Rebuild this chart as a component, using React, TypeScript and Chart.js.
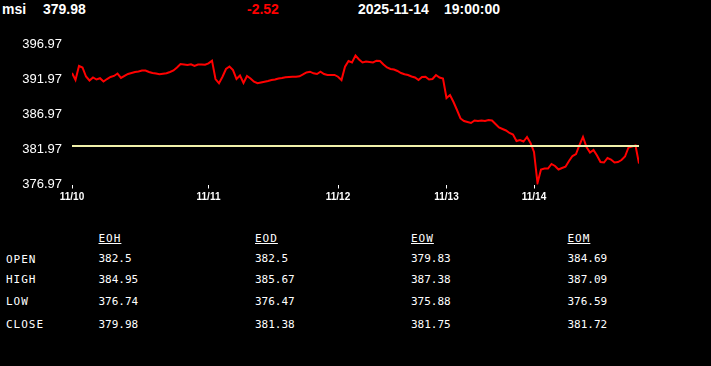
import React, { useEffect, useRef } from 'react';
import { Chart, registerables } from 'chart.js';

Chart.register(...registerables);

// ---------- header ----------
const symbol = 'msi';
const lastPrice = '379.98';
const change = '-2.52';
const quoteDate = '2025-11-14';
const quoteTime = '19:00:00';

// ---------- chart data ----------
const dayLabels = ['11/10', '11/11', '11/12', '11/13', '11/14'];

const day1 = [
  392.94, 391.94, 393.95, 393.73, 392.44, 391.87, 392.3, 392.01, 392.19, 391.73,
  392.08, 392.37, 392.52, 392.87, 392.23, 392.52, 392.8, 392.94, 393.09, 393.16,
  393.3, 393.3, 393.09, 392.94, 392.87, 392.76, 392.83, 392.9, 393.09, 393.3,
  393.73, 394.23, 394.16, 394.09, 394.19, 393.95, 394.16, 394.16, 394.12,
];
const day2 = [
  394.33, 394.71, 392.08, 391.47, 392.41, 393.52, 393.88, 393.37, 392.08, 392.59,
  391.51, 392.52, 392.16, 391.7, 391.47, 391.58, 391.7, 391.8, 391.94, 392.01,
  392.16, 392.23, 392.33, 392.37, 392.41, 392.41, 392.47, 392.73, 393.02, 393.13,
  392.9, 392.8, 393.13, 392.8, 392.66, 392.66, 392.66,
];
const day3 = [
  392.41, 391.94, 393.85, 394.66, 394.45, 395.45, 394.88, 394.45, 394.59, 394.52,
  394.45, 394.71, 394.66, 394.16, 393.73, 393.52, 393.45, 393.23, 392.94, 392.76,
  392.66, 392.44, 392.3, 391.94, 392.37, 392.41, 392.01, 392.08, 392.66, 392.3,
  392.16,
];
const day4 = [
  389.36, 389.79, 388.79, 387.64, 386.43, 386.07, 385.92, 385.78, 386.14, 386.07,
  386.14, 386.07, 386.21, 386.14, 385.64, 385.14, 384.92, 384.71, 384.35, 384.13,
  383.2, 383.35, 383.13, 383.78, 382.92,
];
const day5 = [
  381.63, 377.18, 379.12, 379.26, 379.26, 379.91, 379.62, 379.12, 379.33, 379.52,
  380.34, 381.05, 381.34, 382.63, 383.78, 382.34, 381.55, 381.91, 381.12, 380.19,
  380.12, 380.77, 380.55, 380.12, 380.19, 380.48, 380.98, 382.27, 382.41, 382.56,
  379.98,
];

const referencePrice = 382.5;
const yTicks = [376.97, 381.97, 386.97, 391.97, 396.97];
const yMin = 376.97;
const yMax = 398.1;

// ---------- table ----------
const periods = ['EOH', 'EOD', 'EOW', 'EOM'];
const rowLabels = ['OPEN', 'HIGH', 'LOW', 'CLOSE'];
const eohValues = ['382.5', '384.95', '376.74', '379.98'];
const eodValues = ['382.5', '385.67', '376.47', '381.38'];
const eowValues = ['379.83', '387.38', '375.88', '381.75'];
const eomValues = ['384.69', '387.09', '376.59', '381.72'];

const SANS = '"Liberation Sans", Arial, sans-serif';
const MONO = '"DejaVu Sans Mono", "Liberation Mono", monospace';

const RED = 'rgb(255,0,0)';
const YELLOW = 'rgb(240,240,170)';

function PriceChart() {
  const ref = useRef<HTMLCanvasElement | null>(null);

  useEffect(() => {
    if (!ref.current) return;
    const days = [day1, day2, day3, day4, day5];
    const dayStarts: number[] = [];
    const closes: number[] = [];
    days.forEach((d) => {
      dayStarts.push(closes.length);
      closes.push(...d);
    });
    const lastIndex = closes.length - 1;
    const points = closes.map((v, i) => ({ x: i, y: v }));
    const refPoints = [
      { x: 0, y: referencePrice },
      { x: lastIndex, y: referencePrice },
    ];

    const chart = new Chart(ref.current, {
      type: 'line',
      data: {
        datasets: [
          {
            data: refPoints,
            borderColor: YELLOW,
            borderWidth: 2,
            pointRadius: 0,
            fill: false,
          },
          {
            data: points,
            borderColor: RED,
            borderWidth: 2,
            pointRadius: 0,
            tension: 0,
            fill: false,
          },
        ],
      },
      options: {
        animation: false,
        responsive: false,
        events: [],
        layout: { padding: { top: 37, right: 72, bottom: 0, left: 0 } },
        plugins: {
          legend: { display: false },
          tooltip: { enabled: false },
        },
        scales: {
          x: {
            type: 'linear',
            min: 0,
            max: lastIndex,
            afterBuildTicks: (s: any) => {
              s.ticks = dayStarts.map((v) => ({ value: v }));
            },
            afterFit: (s: any) => {
              s.height = 30.5;
            },
            ticks: {
              autoSkip: false,
              maxRotation: 0,
              padding: 3,
              color: '#ffffff',
              font: { family: SANS, size: 10, weight: 'bold' },
              callback: (v: any) => {
                const k = dayStarts.indexOf(Number(v));
                return k >= 0 ? dayLabels[k] : '';
              },
            },
            grid: {
              display: true,
              drawOnChartArea: false,
              drawTicks: true,
              tickLength: 4,
              color: '#ffffff',
              lineWidth: 1,
            },
            border: { display: false },
          },
          y: {
            min: yMin,
            max: yMax,
            afterBuildTicks: (s: any) => {
              s.ticks = yTicks.map((v) => ({ value: v }));
            },
            afterFit: (s: any) => {
              s.width = 72;
            },
            ticks: {
              padding: 10,
              color: '#ffffff',
              font: { family: SANS, size: 13 },
              callback: (v: any) => Number(v).toFixed(2),
            },
            grid: { display: false, drawTicks: false },
            border: { display: false },
          },
        },
      },
    } as any);
    return () => chart.destroy();
  }, []);

  return (
    <canvas
      ref={ref}
      width={711}
      height={215}
      style={{ position: 'absolute', left: 0, top: 0, width: 711, height: 215 }}
    />
  );
}

function Txt(props: {
  x: number;
  capTop: number;
  children: React.ReactNode;
  color?: string;
  mono?: boolean;
  underline?: boolean;
  spacing?: number;
}) {
  const { x, capTop, children, color, mono, underline, spacing } = props;
  const style: React.CSSProperties = mono
    ? {
        position: 'absolute',
        left: x,
        top: capTop - 1.3,
        fontFamily: MONO,
        fontSize: 11,
        lineHeight: '11px',
        color: color || '#ffffff',
        whiteSpace: 'pre',
        textDecoration: underline ? 'underline' : 'none',
        letterSpacing: spacing ? spacing : 0,
      }
    : {
        position: 'absolute',
        left: x,
        top: capTop - 1.85,
        fontFamily: SANS,
        fontWeight: 'bold',
        fontSize: 14,
        lineHeight: '14px',
        color: color || '#ffffff',
        whiteSpace: 'pre',
      };
  return <div style={style}>{children}</div>;
}

export default function App() {
  const colX = [98.5, 255, 411, 567.5];
  const rowTops = [254.5, 275.7, 297.7, 320];
  const columns = [eohValues, eodValues, eowValues, eomValues];
  return (
    <div
      style={{
        position: 'fixed',
        left: 0,
        top: 0,
        width: 711,
        height: 366,
        background: '#000000',
        overflow: 'hidden',
      }}
    >
      <Txt x={2} capTop={4}>{symbol}</Txt>
      <Txt x={43} capTop={4}>{lastPrice}</Txt>
      <Txt x={247} capTop={4} color={RED}>{change}</Txt>
      <Txt x={358} capTop={4}>{quoteDate}</Txt>
      <Txt x={444} capTop={4}>{quoteTime}</Txt>

      <PriceChart />

      {periods.map((p, i) => (
        <Txt key={p} x={colX[i]} capTop={234.3} mono underline spacing={1}>
          {p}
        </Txt>
      ))}
      {rowLabels.map((r, j) => (
        <Txt key={r} x={6} capTop={rowTops[j] + (j === 0 ? 1 : 0)} mono spacing={1}>
          {r}
        </Txt>
      ))}
      {columns.map((col, i) =>
        col.map((v, j) => (
          <Txt key={i + '-' + j} x={colX[i]} capTop={rowTops[j]} mono>
            {v}
          </Txt>
        ))
      )}
    </div>
  );
}
